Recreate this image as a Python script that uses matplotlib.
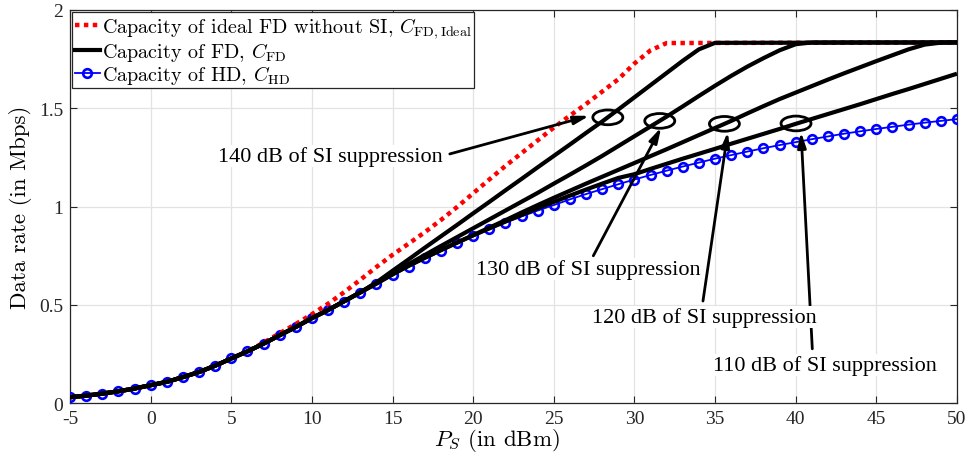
import numpy as np
import matplotlib
matplotlib.use('Agg')
from matplotlib import pyplot as plt
from matplotlib.patches import Ellipse
from matplotlib.lines import Line2D

plt.rcParams['mathtext.fontset'] = 'cm'
plt.rcParams['axes.unicode_minus'] = False

# transmit power grid (dBm)
p_hd = list(range(-5, 51))
# half duplex capacity, one marker per dBm
c_hd = [0.031, 0.039, 0.049, 0.061, 0.075, 0.092, 0.109, 0.133, 0.159, 0.191,
        0.228, 0.264, 0.303, 0.346, 0.387, 0.432, 0.473, 0.517, 0.562, 0.607,
        0.652, 0.695, 0.737, 0.776, 0.814, 0.851, 0.886, 0.919, 0.950, 0.980,
        1.008, 1.037, 1.064, 1.089, 1.114, 1.138, 1.161, 1.183, 1.204, 1.224,
        1.244, 1.262, 1.280, 1.297, 1.313, 1.328, 1.343, 1.357, 1.371, 1.383,
        1.395, 1.406, 1.417, 1.427, 1.436, 1.445]

# ideal FD (no SI)
p_ideal = list(range(-5, 33)) + [50]
c_ideal = [0.031, 0.039, 0.049, 0.061, 0.075, 0.092, 0.109, 0.133, 0.159, 0.191,
           0.228, 0.264, 0.308, 0.356, 0.403, 0.453, 0.506, 0.565, 0.628, 0.693,
           0.755, 0.812, 0.870, 0.932, 0.998, 1.068, 1.138, 1.207, 1.272, 1.337,
           1.402, 1.463, 1.522, 1.585, 1.648, 1.728, 1.795, 1.832, 1.835]

# common low power part of the FD curves (-5 .. 13 dBm)
p_low = list(range(-5, 14))
c_low = [0.031, 0.039, 0.049, 0.061, 0.075, 0.092, 0.109, 0.133, 0.159, 0.191,
         0.228, 0.264, 0.303, 0.346, 0.388, 0.433, 0.474, 0.519, 0.564]

p_140 = list(range(14, 36)) + [50]
c_140 = [0.615, 0.674, 0.732, 0.791, 0.849, 0.907, 0.966, 1.024, 1.083, 1.141,
         1.200, 1.258, 1.316, 1.375, 1.433, 1.494, 1.556, 1.618, 1.680, 1.742,
         1.800, 1.833, 1.835]

p_130 = list(range(14, 42)) + [50]
c_130 = [0.612, 0.662, 0.708, 0.754, 0.800, 0.845, 0.890, 0.935, 0.980, 1.025,
         1.070, 1.117, 1.163, 1.210, 1.258, 1.308, 1.358, 1.408, 1.458, 1.510,
         1.563, 1.615, 1.665, 1.712, 1.755, 1.795, 1.826, 1.835, 1.835]

p_120 = list(range(14, 51))
c_120 = [0.610, 0.658, 0.700, 0.740, 0.779, 0.817, 0.855, 0.893, 0.931, 0.970,
         1.008, 1.045, 1.081, 1.117, 1.152, 1.187, 1.222, 1.257, 1.292, 1.328,
         1.364, 1.400, 1.436, 1.474, 1.511, 1.547, 1.580, 1.613, 1.646, 1.678,
         1.709, 1.740, 1.770, 1.800, 1.824, 1.834, 1.835]

p_110 = list(range(14, 51))
c_110 = [0.608, 0.655, 0.699, 0.740, 0.779, 0.817, 0.854, 0.889, 0.924, 0.958,
         0.992, 1.024, 1.056, 1.087, 1.117, 1.146, 1.165, 1.192, 1.218, 1.244,
         1.269, 1.294, 1.320, 1.345, 1.370, 1.395, 1.421, 1.446, 1.471, 1.496,
         1.521, 1.547, 1.573, 1.598, 1.624, 1.650, 1.676]

# annotations: label, ellipse centre, arrow head, arrow tail, text centre
notes = [
    ('140 dB of SI suppression', (28.35, 1.454), (27.2, 1.462), (18.55, 1.268), (11.17, 1.258)),
    ('130 dB of SI suppression', (31.57, 1.436), (31.66, 1.403), (27.45, 0.75), (27.16, 0.683)),
    ('120 dB of SI suppression', (35.58, 1.421), (35.79, 1.380), (34.25, 0.52), (34.34, 0.439)),
    ('110 dB of SI suppression', (40.02, 1.423), (40.33, 1.380), (41.03, 0.277), (41.84, 0.195)),
]

fig = plt.figure(figsize=(9.74, 4.64), dpi=100)
ax = fig.add_axes([0.0719, 0.1287, 0.9106, 0.8476])

ax.plot(p_hd, c_hd, 'o-', color='b', lw=1.3, ms=6.2, mfc='none', mew=1.9, zorder=3)
ax.plot(p_ideal, c_ideal, color='r', lw=3.2, ls=(0, (1, 1)), zorder=4)
for pp, cc in [(p_140, c_140), (p_130, c_130), (p_120, c_120), (p_110, c_110)]:
    ax.plot(p_low + pp, c_low + cc, color='k', lw=3.0, zorder=5,
            solid_capstyle='butt', solid_joinstyle='round')

for label, centre, head, tail, tpos in notes:
    ax.add_patch(Ellipse(centre, 1.86, 0.075, fill=False, ec='k', lw=2.0, zorder=6))
    ax.annotate('', xy=head, xytext=tail, zorder=7,
                arrowprops=dict(arrowstyle='-|>,head_length=0.9,head_width=0.25',
                                color='k', lw=2.0, shrinkA=0, shrinkB=0))
    ax.text(tpos[0], tpos[1], label, ha='center', va='center', fontsize=16,
            family='Liberation Serif', zorder=8,
            bbox=dict(facecolor='white', edgecolor='none', pad=1.0))

ax.set_xlim(-5, 50)
ax.set_ylim(0, 2)
ax.set_xticks(np.arange(-5, 51, 5))
ax.set_yticks([0, 0.5, 1, 1.5, 2])
ax.set_yticklabels(['0', '0.5', '1', '1.5', '2'])
for t in ax.get_xticklabels() + ax.get_yticklabels():
    t.set_family('Liberation Serif')
    t.set_fontsize(14)
ax.tick_params(direction='in', length=5, width=0.8, top=True, right=True,
               colors='#262626', pad=5)
ax.grid(True, color='#e3e3e3', lw=0.9)
ax.set_axisbelow(True)
for s in ax.spines.values():
    s.set_color('#262626')
    s.set_linewidth(0.9)

ax.set_xlabel(r'$P_S$ (in dBm)', fontsize=16.5, family='cmr10', labelpad=0)
ax.xaxis.set_label_coords(0.481, -0.058)
ax.set_ylabel('Data rate (in Mbps)', fontsize=16.5, family='cmr10', labelpad=5)

handles = [
    Line2D([], [], color='r', lw=3.2, ls=(0, (1, 1))),
    Line2D([], [], color='k', lw=3.0),
    Line2D([], [], color='b', lw=1.3, marker='o', ms=6.2, mfc='none', mew=1.9),
]
labels = [r'Capacity of ideal FD without SI, $C_{\mathrm{FD,Ideal}}$',
          r'Capacity of FD, $C_{\mathrm{FD}}$',
          r'Capacity of HD, $C_{\mathrm{HD}}$']
leg = ax.legend(handles, labels, loc='upper left', fancybox=False, framealpha=1,
                edgecolor='#262626', borderaxespad=0.12, borderpad=0.12,
                handlelength=1.25, handletextpad=0.1, labelspacing=0.0,
                prop={'family': 'cmr10', 'size': 14.5})
leg.get_frame().set_linewidth(0.9)
leg.set_zorder(10)

fig.savefig('out.png', dpi=100)
